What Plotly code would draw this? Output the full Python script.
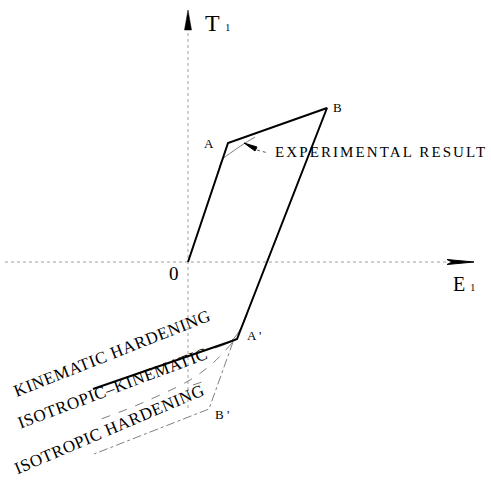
import plotly.graph_objects as go

# Strain (E1) / stress (T1) coordinates, arbitrary units, origin at O
# Bilinear loading and reverse-loading path (kinematic hardening)
path_E = [0.0, 4.0, 13.9, 4.9, 4.4, -9.5]
path_T = [0.0, 11.9, 15.4, -7.7, -7.9, -12.7]

# Measured response rounding the corner at A
exp_A_E = [3.1, 3.4, 4.4, 5.4, 6.7]
exp_A_T = [9.2, 10.2, 11.0, 11.7, 12.5]

# Measured response rounding the corner at A'
exp_A2_E = [5.9, 5.3, 4.7, 4.0, 2.7]
exp_A2_T = [-5.3, -6.6, -7.5, -8.1, -8.6]

# Combined isotropic-kinematic hardening curve
isokin_E = [4.4, 2.5, 0.2, -2.8, -5.8, -9.5]
isokin_T = [-8.1, -10.1, -11.8, -13.3, -14.6, -16.0]
isokin_tail_E = [0.5, 2.0]
isokin_tail_T = [-12.3, -11.8]

# Isotropic hardening: elastic range grows to B'
iso_E = [4.5, 2.1, -9.4]
iso_T = [-8.0, -14.7, -19.2]

# Axis extents
x_axis_from, x_axis_to, x_tip = -18.3, 25.9, 28.6
y_axis_from, y_axis_to, y_tip = -14.6, 23.2, 25.2

# Pointer to the measured curve (tip, tail)
ptr_E = [5.6, 6.8]
ptr_T = [11.9, 11.3]
leader_E = [6.9, 8.0]
leader_T = [11.2, 10.9]

fig = go.Figure()

axis_style = dict(color="#a0a0a0", width=1, dash="dot")
fig.add_trace(go.Scatter(x=[x_axis_from, x_axis_to], y=[0, 0], mode="lines",
                         line=axis_style, hoverinfo="skip"))
fig.add_trace(go.Scatter(x=[0, 0], y=[y_axis_from, y_axis_to], mode="lines",
                         line=axis_style, hoverinfo="skip"))

fig.add_trace(go.Scatter(x=iso_E, y=iso_T, mode="lines",
                         line=dict(color="#808080", width=1, dash="dashdot"),
                         hoverinfo="skip"))
fig.add_trace(go.Scatter(x=isokin_E, y=isokin_T, mode="lines", line_shape="spline",
                         line=dict(color="#808080", width=1, dash="dash"),
                         hoverinfo="skip"))
fig.add_trace(go.Scatter(x=isokin_tail_E, y=isokin_tail_T, mode="lines",
                         line=dict(color="#808080", width=1, dash="dash"),
                         hoverinfo="skip"))
fig.add_trace(go.Scatter(x=exp_A_E, y=exp_A_T, mode="lines", line_shape="spline",
                         line=dict(color="#808080", width=1), hoverinfo="skip"))
fig.add_trace(go.Scatter(x=exp_A2_E, y=exp_A2_T, mode="lines", line_shape="spline",
                         line=dict(color="#808080", width=1), hoverinfo="skip"))
fig.add_trace(go.Scatter(x=path_E, y=path_T, mode="lines",
                         line=dict(color="black", width=2), hoverinfo="skip"))

# Arrow heads on the axes
fig.add_shape(type="path",
              path=(f"M {x_axis_to},0.25 L {x_tip},0 L {x_axis_to},-0.25 "
                    f"L {x_axis_to + 0.5},0 Z"),
              fillcolor="black", line=dict(color="black", width=1))
fig.add_shape(type="path",
              path=f"M -0.35,{y_axis_to} L 0,{y_tip} L 0.35,{y_axis_to} Z",
              fillcolor="black", line=dict(color="black", width=0.5))

# Wedge-shaped pointer and its dotted leader
tx, ty = ptr_E[0], ptr_T[0]
bx, by = ptr_E[1], ptr_T[1]
fig.add_shape(type="path",
              path=(f"M {tx},{ty} L {bx - 0.1},{by - 0.2} "
                    f"L {bx + 0.1},{by + 0.2} Z"),
              fillcolor="black", line=dict(color="black", width=1))
fig.add_trace(go.Scatter(x=leader_E, y=leader_T, mode="lines",
                         line=dict(color="#555555", width=1, dash="dot"),
                         hoverinfo="skip"))

serif = "Liberation Serif"


def label(text, x, y, size, angle=0, spacing=0, xanchor="center"):
    if spacing:
        text = f"<span style='letter-spacing:{spacing}px'>{text}</span>"
    fig.add_annotation(x=x, y=y, text=text, showarrow=False, textangle=angle,
                       xanchor=xanchor, yanchor="middle",
                       font=dict(family=serif, size=size, color="black"))


label("T <span style='font-size:10px'>1</span>", 2.9, 23.9, 24)
label("E <span style='font-size:10px'>1</span>", 27.6, -2.2, 20)
label("0", -1.4, -1.1, 19)
label("A", 2.1, 11.9, 13)
label("B", 14.9, 15.5, 13)
label("A '", 6.6, -7.3, 13)
label("B '", 3.4, -15.2, 13)
label("EXPERIMENTAL RESULT", 8.5, 11.0, 15, spacing=2.1, xanchor="left")

label("KINEMATIC HARDENING", -7.6, -9.1, 17, angle=-21.5, spacing=0.6)
label("ISOTROPIC–KINEMATIC", -7.6, -12.6, 17, angle=-20.5, spacing=0.6)
label("ISOTROPIC HARDENING", -7.9, -16.7, 17, angle=-23, spacing=0.6)

fig.update_layout(
    width=491, height=482,
    margin=dict(l=0, r=0, t=0, b=0),
    paper_bgcolor="white", plot_bgcolor="white",
    showlegend=False,
    xaxis=dict(range=[-18.8, 30.3], visible=False, fixedrange=True),
    yaxis=dict(range=[-22.0, 26.2], visible=False, fixedrange=True),
)

fig.write_html("out.html")
